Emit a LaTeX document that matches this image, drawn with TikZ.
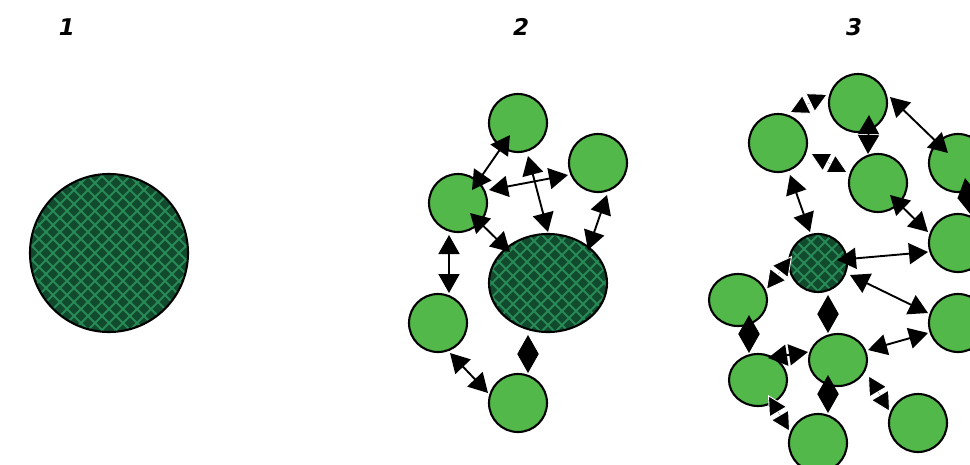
\documentclass[tikz,border=0pt]{standalone}
\usepackage{fontspec}
\newfontfamily\labfont{DejaVu Sans}
\usetikzlibrary{arrows.meta,calc,shapes.geometric}
\definecolor{lightg}{RGB}{82,184,74}
\definecolor{hdark}{RGB}{18,74,46}
\definecolor{hlinec}{RGB}{40,138,86}
\begin{document}
\begin{tikzpicture}[x=1pt,y=-1pt,
  ball/.style={circle,draw=black,line width=2.1pt,fill=lightg,minimum size=58pt,inner sep=0pt},
  eball/.style={ellipse,draw=black,line width=2.1pt,fill=lightg,minimum width=58pt,minimum height=52pt,inner sep=0pt},
  hatched/.style={draw=black,line width=2.1pt,fill=hdark,inner sep=0pt,
    path picture={
      \foreach \k in {-30,...,30}{
        \draw[hlinec,line width=2pt] ($(path picture bounding box.center)+(\k*14pt-300pt,-300pt)$) -- ++(600pt,600pt);
        \draw[hlinec,line width=2pt] ($(path picture bounding box.center)+(\k*14pt-300pt,300pt)$) -- ++(600pt,-600pt);
      }}},
  lab/.style={font=\labfont\bfseries\itshape\fontsize{23}{23}\selectfont,inner sep=0pt},
  dbl/.style={line width=1.9pt,{Triangle[length=19pt,width=21pt]}-{Triangle[length=19pt,width=21pt]}},
  dia/.style={line width=1.9pt,{Triangle[length=19pt,width=21pt]}-{Triangle[length=19pt,width=21pt]}},
  spl/.style={line width=0.1pt,{Triangle[length=20pt,width=21pt,color=white,fill=black,line width=0.9pt]}-{Triangle[length=20pt,width=21pt,color=white,fill=black,line width=0.9pt]}}
]
\useasboundingbox (0,0) rectangle (970,464);
\clip (0,0) rectangle (970,464);

% labels
\node[lab] (t1) at (67,27) {1};
\node[lab] (t2) at (521,27) {2};
\node[lab] (t3) at (854,27) {3};

% panel 1
\node[hatched,circle,minimum size=158pt] (big) at (109,253) {};

% panel 2
\node[ball] (A) at (518,123) {};
\node[ball] (B) at (598,163) {};
\node[ball] (C) at (458,203) {};
\node[hatched,ellipse,minimum width=118pt,minimum height=98pt] (D) at (548,283) {};
\node[ball] (E) at (438,323) {};
\node[ball] (F) at (518,403) {};

\draw[dbl] ([shift={(-8,12)}]A.center) -- ([shift={(14,-13)}]C.center);
\draw[dbl] ([shift={(31,-13)}]C.center) -- ([shift={(-30,12)}]B.center);
\draw[dbl] ([shift={(10,33)}]A.center) -- ([shift={(0,-51)}]D.center);
\draw[dbl] ([shift={(9,32)}]B.center) -- ([shift={(40,-33)}]D.center);
\draw[dbl] ([shift={(12,10)}]C.center) -- ([shift={(-38,-31)}]D.center);
\draw[dbl] ([shift={(-9,32)}]C.center) -- ([shift={(11,-30)}]E.center);
\draw[dbl] ([shift={(12,30)}]E.center) -- ([shift={(-30,-10)}]F.center);
\draw[dia] ([shift={(-20,52)}]D.center) -- ([shift={(10,-30)}]F.center);

% panel 3
\node[ball] (G) at (858,103) {};
\node[ball] (H) at (778,143) {};
\node[ball] (I) at (878,183) {};
\node[ball] (J) at (958,163) {};
\node[ball] (K) at (958,243) {};
\node[hatched,circle,minimum size=58pt] (L) at (818,263) {};
\node[eball] (M) at (738,300) {};
\node[eball] (N) at (838,360) {};
\node[eball] (O) at (758,380) {};
\node[ball] (P) at (818,443) {};
\node[ball] (Q) at (918,423) {};
\node[ball] (R) at (958,323) {};

\draw[spl] ([shift={(11,-30)}]H.center) -- ([shift={(-30,-9)}]G.center);
\draw[dbl] ([shift={(32,-6)}]G.center) -- ([shift={(-10,-10)}]J.center);
\draw[dia] ([shift={(11,12)}]G.center) -- ([shift={(-10,-29)}]I.center);
\draw[spl] ([shift={(32,10)}]H.center) -- ([shift={(-30,-10)}]I.center);
\draw[dbl] ([shift={(12,32)}]H.center) -- ([shift={(-8,-31)}]L.center);
\draw[dbl] ([shift={(12,12)}]I.center) -- ([shift={(-30,-11)}]K.center);
\draw[dbl] ([shift={(19,-3)}]L.center) -- ([shift={(-30,9)}]K.center);
\draw[dia] ([shift={(7,15)}]J.center) -- ([shift={(13,-28)}]K.center);
\draw[spl] ([shift={(28,-10)}]M.center) -- ([shift={(-26,-7)}]L.center);
\draw[dia] ([shift={(10,32)}]L.center) -- ([shift={(-10,-27)}]N.center);
\draw[dbl] ([shift={(32,12)}]L.center) -- ([shift={(-30,-10)}]R.center);
\draw[dbl] ([shift={(30,-10)}]N.center) -- ([shift={(-30,10)}]R.center);
\draw[dia] ([shift={(11,15)}]M.center) -- ([shift={(-9,-27)}]O.center);
\draw[dia] ([shift={(10,-22)}]O.center) -- ([shift={(-30,-8)}]N.center);
\draw[dia] ([shift={(-10,15)}]N.center) -- ([shift={(10,-30)}]P.center);
\draw[spl] ([shift={(10,15)}]O.center) -- ([shift={(-28,-11)}]P.center);
\draw[spl] ([shift={(30,15)}]N.center) -- ([shift={(-28,-11)}]Q.center);
\end{tikzpicture}
\end{document}
